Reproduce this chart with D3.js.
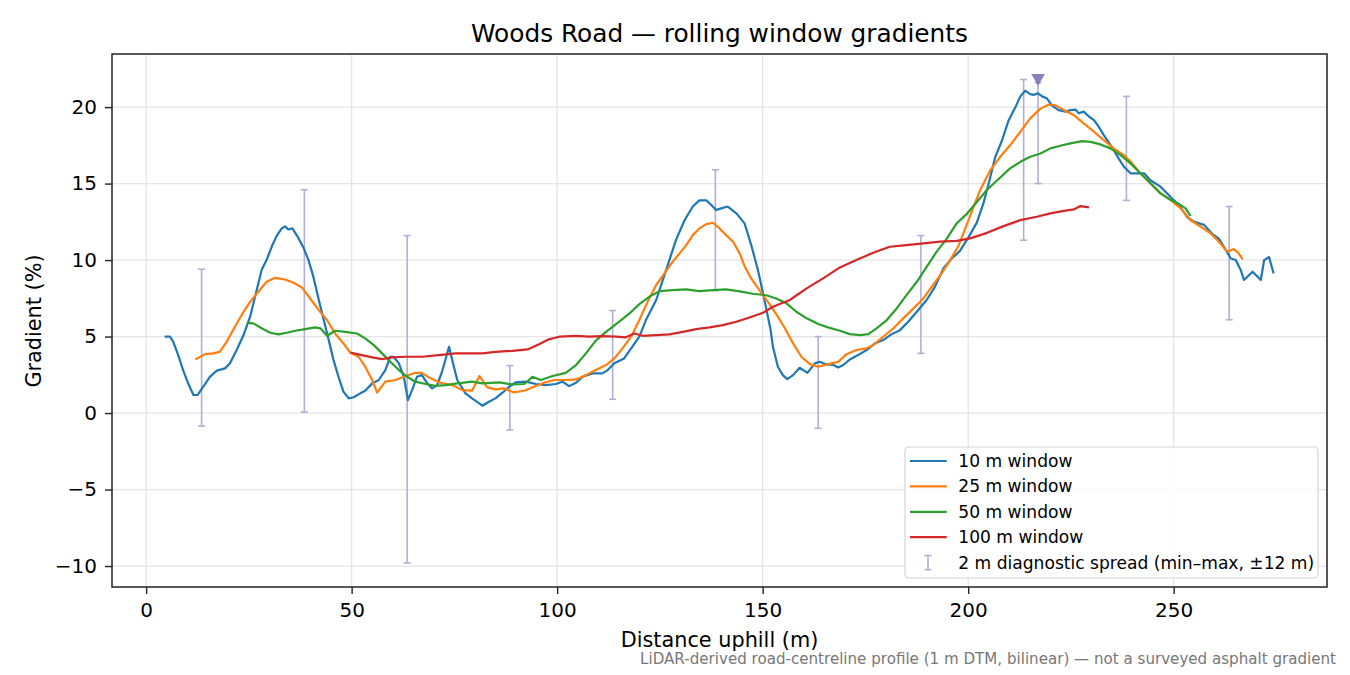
<!DOCTYPE html>
<html>
<head>
<meta charset="utf-8">
<script src="https://cdn.jsdelivr.net/npm/d3@7"></script>
<style>
  body { margin: 0; background: #fff; }
  svg text { font-family: "DejaVu Sans", sans-serif; }
</style>
</head>
<body>
<div id="chart"></div>
<script>
// [distance uphill (m), gradient (%)]
const win10 = [[4.5,5.0],[5.8,5.0],[6.6,4.66],[7.8,3.8],[9.0,2.8],[10.2,1.96],[11.5,1.18],[12.5,1.18],[13.9,1.72],[15.5,2.37],[17.2,2.77],[19.2,2.92],[20.4,3.25],[22.0,4.1],[23.7,5.1],[25.3,6.3],[26.5,7.6],[28.1,9.35],[29.3,10.0],[30.6,10.9],[31.8,11.6],[33.0,12.07],[33.8,12.2],[34.6,12.0],[35.6,12.07],[36.7,11.6],[38.3,10.8],[39.5,10.0],[40.7,8.9],[42.0,7.4],[43.2,6.1],[44.4,4.8],[45.6,3.46],[46.8,2.37],[48.0,1.4],[49.3,0.96],[50.5,1.03],[52.1,1.29],[53.3,1.46],[55.0,1.94],[56.6,2.16],[58.2,2.81],[59.4,3.68],[60.2,3.68],[61.5,3.25],[62.7,2.37],[63.7,0.85],[64.7,1.5],[65.9,2.37],[67.1,2.48],[68.4,1.94],[69.6,1.61],[70.8,1.83],[72.0,2.7],[73.7,4.33],[74.9,3.0],[75.7,2.16],[77.7,1.29],[79.3,0.96],[81.8,0.48],[83.4,0.74],[85.0,0.96],[86.7,1.33],[88.3,1.72],[89.9,2.0],[92.4,2.05],[94.8,1.9],[97.2,1.83],[99.7,1.9],[101.3,2.05],[102.9,1.76],[104.6,1.98],[106.2,2.37],[108.6,2.59],[111.0,2.59],[112.3,2.81],[113.9,3.25],[116.3,3.57],[118.0,4.23],[120.0,4.99],[121.6,6.08],[124.1,7.39],[125.7,8.69],[127.3,10.0],[128.9,11.3],[131.0,12.6],[133.0,13.5],[134.6,13.9],[136.3,13.9],[137.5,13.6],[138.7,13.27],[139.9,13.38],[141.5,13.5],[143.6,13.05],[145.6,12.4],[147.2,11.0],[148.9,9.3],[150.5,7.3],[151.9,5.5],[152.5,4.33],[153.7,3.03],[154.9,2.48],[156.0,2.22],[157.4,2.48],[159.0,2.96],[160.9,2.63],[162.7,3.25],[163.9,3.35],[165.5,3.18],[167.2,3.14],[168.4,2.98],[169.6,3.14],[171.2,3.5],[173.2,3.79],[175.3,4.12],[177.3,4.55],[179.3,4.77],[181.4,5.16],[183.4,5.42],[185.4,5.97],[187.5,6.62],[189.9,7.39],[191.9,8.25],[194.0,9.46],[196.0,10.1],[198.0,10.6],[200.1,11.5],[202.1,12.45],[203.7,13.7],[205.0,15.0],[206.6,16.75],[208.2,17.8],[209.8,19.1],[211.5,20.0],[212.7,20.7],[213.9,21.07],[215.1,20.85],[215.9,20.8],[217.0,20.9],[218.0,20.7],[219.2,20.56],[220.4,20.1],[222.0,19.8],[223.7,19.7],[224.9,19.8],[226.1,19.84],[226.9,19.6],[228.1,19.7],[229.3,19.4],[230.6,19.15],[231.8,18.7],[233.0,18.17],[234.2,17.7],[235.4,17.2],[236.7,16.6],[237.9,16.1],[239.5,15.67],[241.1,15.67],[242.8,15.67],[244.4,15.2],[246.8,14.8],[249.3,14.1],[251.3,13.6],[253.3,12.8],[255.0,12.5],[257.4,12.3],[259.4,11.7],[261.0,11.4],[262.7,10.65],[263.9,10.1],[265.1,10.0],[266.3,9.35],[267.1,8.7],[269.2,9.24],[271.2,8.7],[272.0,10.0],[273.2,10.2],[274.3,9.13]];

const win25 = [[12.0,3.5],[14.3,3.85],[16.3,3.9],[17.9,4.0],[19.6,4.66],[21.6,5.64],[23.7,6.62],[25.3,7.27],[27.3,7.93],[29.3,8.58],[31.4,8.84],[33.8,8.73],[35.9,8.52],[37.9,8.21],[39.9,7.49],[42.0,6.73],[44.0,6.08],[46.0,5.2],[48.0,4.55],[49.7,3.94],[51.7,3.68],[53.3,3.03],[55.0,2.16],[56.2,1.33],[58.2,2.05],[60.7,2.16],[62.7,2.37],[65.5,2.63],[67.1,2.63],[69.2,2.27],[71.6,1.98],[74.5,1.83],[76.9,1.5],[79.3,1.46],[81.1,2.42],[83.0,1.68],[85.0,1.55],[87.1,1.61],[89.5,1.35],[92.0,1.46],[94.4,1.72],[96.8,1.98],[99.3,2.16],[102.1,2.16],[104.6,2.2],[107.0,2.48],[109.4,2.81],[111.9,3.14],[113.9,3.57],[115.9,4.23],[118.0,4.99],[120.0,6.08],[122.0,7.27],[124.1,8.37],[126.1,9.13],[128.1,9.89],[129.8,10.44],[131.4,10.98],[133.0,11.63],[134.6,12.07],[136.3,12.35],[137.9,12.44],[139.5,12.07],[141.1,11.63],[142.8,11.2],[144.4,10.44],[145.6,9.6],[147.2,8.8],[149.3,8.0],[151.7,7.1],[153.7,6.3],[155.4,5.54],[157.4,4.55],[159.4,3.68],[161.5,3.2],[163.5,3.03],[165.9,3.2],[168.4,3.35],[170.4,3.85],[172.8,4.12],[175.3,4.23],[176.9,4.44],[179.3,4.99],[181.8,5.54],[184.2,6.19],[186.7,6.84],[189.1,7.49],[191.1,8.25],[193.2,9.0],[195.4,9.9],[197.6,10.9],[200.5,12.9],[202.9,14.57],[205.4,15.88],[207.8,16.75],[210.2,17.5],[212.7,18.39],[215.1,19.26],[217.6,19.9],[219.6,20.17],[221.2,20.13],[223.3,19.8],[225.7,19.48],[228.1,18.93],[230.6,18.39],[233.0,17.84],[235.4,17.3],[237.9,16.86],[239.9,16.32],[241.9,15.67],[244.4,15.0],[246.8,14.36],[249.3,13.92],[251.7,13.38],[254.1,12.6],[256.6,12.18],[259.0,11.74],[261.0,11.2],[263.1,10.55],[264.6,10.72],[265.7,10.48],[266.8,10.05]];

const win50 = [[24.5,5.9],[26.1,5.86],[28.1,5.54],[30.2,5.25],[32.2,5.14],[34.2,5.25],[36.3,5.38],[38.7,5.49],[41.1,5.6],[42.4,5.54],[44.0,5.05],[46.0,5.38],[48.4,5.31],[51.3,5.2],[53.3,4.88],[55.4,4.44],[57.4,3.9],[59.4,3.35],[61.5,2.81],[63.5,2.37],[65.5,2.05],[68.0,1.9],[70.4,1.78],[72.9,1.83],[75.3,1.92],[79.3,2.05],[81.8,1.94],[85.9,2.0],[89.1,1.87],[92.0,1.9],[94.0,2.37],[96.0,2.16],[98.9,2.42],[102.1,2.63],[104.6,3.14],[107.0,3.9],[109.4,4.73],[111.9,5.31],[115.1,5.97],[117.6,6.51],[120.0,7.12],[122.4,7.6],[124.9,7.97],[128.1,8.04],[131.4,8.08],[134.6,7.97],[137.9,8.04],[141.1,8.08],[144.4,7.95],[147.6,7.8],[150.9,7.7],[153.3,7.49],[155.8,7.17],[158.2,6.62],[160.7,6.19],[163.5,5.82],[165.9,5.6],[168.8,5.38],[171.2,5.16],[173.7,5.1],[175.7,5.16],[177.7,5.54],[180.2,6.08],[182.6,6.84],[185.0,7.71],[187.5,8.58],[189.9,9.56],[192.3,10.54],[194.8,11.4],[197.2,12.4],[199.6,13.0],[202.1,13.8],[204.6,14.6],[207.8,15.4],[210.2,15.99],[212.7,16.42],[215.1,16.75],[217.6,16.97],[220.0,17.3],[222.4,17.47],[224.9,17.63],[227.7,17.78],[229.8,17.73],[232.2,17.56],[234.6,17.3],[237.1,16.86],[239.5,16.32],[241.9,15.67],[244.4,15.0],[246.8,14.36],[249.3,13.92],[251.3,13.66],[252.9,13.38],[254.1,12.88]];

const win100 = [[49.7,3.96],[52.5,3.79],[55.0,3.64],[57.4,3.53],[59.8,3.64],[63.1,3.68],[67.1,3.68],[71.2,3.79],[75.3,3.9],[79.3,3.9],[81.8,3.9],[85.0,4.0],[89.1,4.07],[92.8,4.16],[95.6,4.5],[98.0,4.82],[100.5,4.99],[104.6,5.05],[107.8,4.99],[111.0,5.03],[114.3,4.99],[116.7,4.95],[118.8,5.2],[120.8,5.05],[124.1,5.1],[127.3,5.14],[130.6,5.31],[133.8,5.49],[137.1,5.6],[140.3,5.75],[143.6,5.97],[146.8,6.25],[150.1,6.56],[152.5,6.95],[156.6,7.39],[160.7,8.15],[164.7,8.8],[168.8,9.52],[172.8,10.0],[176.9,10.48],[180.9,10.87],[185.0,10.98],[189.1,11.09],[193.2,11.2],[197.2,11.26],[200.5,11.42],[204.6,11.78],[208.6,12.22],[212.7,12.61],[216.7,12.83],[220.0,13.05],[223.3,13.22],[225.7,13.31],[227.3,13.53],[229.4,13.44]];

// 2 m diagnostic spread (min / max within ±12 m)
const spreadX   = [13.5, 38.5, 63.5, 88.5, 113.5, 138.5, 163.5, 188.5, 213.5, 217, 238.5, 263.5];
const spreadMin = [-0.85, 0.07, -9.8, -1.1, 0.9, 8.0, -1.0, 3.9, 11.3, 15.0, 13.9, 6.1];
const spreadMax = [9.4, 14.6, 11.6, 3.1, 6.7, 15.9, 5.0, 11.6, 21.8, 21.6, 20.7, 13.5];

// steepest point marker
const peakMarker = [217, 21.9];

const xTicks = [0, 50, 100, 150, 200, 250];
const yTicks = [-10, -5, 0, 5, 10, 15, 20];

const seriesNames = ['10 m window', '25 m window', '50 m window', '100 m window'];
const seriesColors = ['#1f77b4', '#ff7f0e', '#2ca02c', '#d62728'];
const spreadLabel = '2 m diagnostic spread (min\u2013max, \u00b112 m)';

const margin = { top: 54, right: 23, bottom: 88, left: 112 };
const width = 1350 - margin.left - margin.right;
const height = 675 - margin.top - margin.bottom;

const svg = d3.select('#chart').append('svg')
    .attr('width', 1350)
    .attr('height', 675);

const g = svg.append('g')
    .attr('transform', `translate(${margin.left},${margin.top})`);

const x = d3.scaleLinear().domain([-8.3, 287.3]).range([0, width]);
const y = d3.scaleLinear().domain([-11.37, 23.47]).range([height, 0]);

// grid
g.append('g').selectAll('line.gx')
    .data(xTicks).enter().append('line')
    .attr('x1', d => x(d)).attr('x2', d => x(d))
    .attr('y1', 0).attr('y2', height)
    .attr('stroke', '#e4e4e4').attr('stroke-width', 1.3);
g.append('g').selectAll('line.gy')
    .data(yTicks).enter().append('line')
    .attr('x1', 0).attr('x2', width)
    .attr('y1', d => y(d)).attr('y2', d => y(d))
    .attr('stroke', '#e4e4e4').attr('stroke-width', 1.3);

// error bars
const spread = spreadX.map((d, i) => ({ x: d, lo: spreadMin[i], hi: spreadMax[i] }));
const errColor = '#b3aed4';
const eb = g.append('g').selectAll('g').data(spread).enter().append('g');
eb.append('line')
    .attr('x1', d => x(d.x)).attr('x2', d => x(d.x))
    .attr('y1', d => y(d.lo)).attr('y2', d => y(d.hi))
    .attr('stroke', errColor).attr('stroke-width', 1.6);
['lo', 'hi'].forEach(k => {
    eb.append('line')
        .attr('x1', d => x(d.x) - 3.5).attr('x2', d => x(d.x) + 3.5)
        .attr('y1', d => y(d[k])).attr('y2', d => y(d[k]))
        .attr('stroke', errColor).attr('stroke-width', 1.6);
});

// rolling window lines
const line = d3.line().x(d => x(d[0])).y(d => y(d[1])).curve(d3.curveLinear);
[win10, win25, win50, win100].forEach((s, i) => {
    g.append('path')
        .datum(s)
        .attr('d', line)
        .attr('fill', 'none')
        .attr('stroke', seriesColors[i])
        .attr('stroke-width', 2.2)
        .attr('stroke-linejoin', 'round')
        .attr('stroke-linecap', 'butt');
});

// peak marker (downward triangle)
g.append('path')
    .attr('d', d3.symbol().type(d3.symbolTriangle).size(80))
    .attr('transform', `translate(${x(peakMarker[0])},${y(peakMarker[1])}) rotate(180)`)
    .attr('fill', '#756bb1')
    .attr('fill-opacity', 0.85);

// axes
const fmt = d => d < 0 ? '\u2212' + Math.abs(d) : String(d);
const xAxis = g.append('g')
    .attr('transform', `translate(0,${height})`)
    .call(d3.axisBottom(x).tickValues(xTicks).tickFormat(fmt).tickSize(7).tickPadding(9));
const yAxis = g.append('g')
    .call(d3.axisLeft(y).tickValues(yTicks).tickFormat(fmt).tickSize(7).tickPadding(8));
[xAxis, yAxis].forEach(a => {
    a.select('.domain').remove();
    a.selectAll('line').attr('stroke', '#222').attr('stroke-width', 1.4);
    a.selectAll('text').attr('fill', '#000').style('font-size', '20px').style('font-family', '"DejaVu Sans", sans-serif');
});

// frame
g.append('rect')
    .attr('width', width).attr('height', height)
    .attr('fill', 'none').attr('stroke', '#222').attr('stroke-width', 1.5);

// legend
const legend = g.append('g')
    .attr('transform', `translate(${905 - margin.left},${447 - margin.top})`);
legend.append('rect')
    .attr('width', 413).attr('height', 131).attr('rx', 4)
    .attr('fill', '#fff').attr('fill-opacity', 0.85)
    .attr('stroke', '#d4d4d4').attr('stroke-width', 1.2);
const rowY = i => 14 + i * 25.4;
seriesNames.forEach((name, i) => {
    legend.append('line')
        .attr('x1', 5).attr('x2', 41.7)
        .attr('y1', rowY(i)).attr('y2', rowY(i))
        .attr('stroke', seriesColors[i]).attr('stroke-width', 2.2);
    legend.append('text')
        .attr('x', 53.3).attr('y', rowY(i)).attr('dy', '0.35em')
        .style('font-size', '17.1px').text(name);
});
const ey = rowY(4);
legend.append('line').attr('x1', 23).attr('x2', 23).attr('y1', ey - 7).attr('y2', ey + 7)
    .attr('stroke', errColor).attr('stroke-width', 1.6);
[-7, 7].forEach(o => {
    legend.append('line').attr('x1', 19.5).attr('x2', 26.5).attr('y1', ey + o).attr('y2', ey + o)
        .attr('stroke', errColor).attr('stroke-width', 1.6);
});
legend.append('text')
    .attr('x', 53.3).attr('y', ey).attr('dy', '0.35em')
    .style('font-size', '17.1px').text(spreadLabel);

// titles and labels
svg.append('text')
    .attr('x', margin.left + width / 2).attr('y', 42)
    .attr('text-anchor', 'middle').style('font-size', '24.8px')
    .text('Woods Road \u2014 rolling window gradients');
svg.append('text')
    .attr('x', margin.left + width / 2).attr('y', 647)
    .attr('text-anchor', 'middle').style('font-size', '20.8px')
    .text('Distance uphill (m)');
svg.append('text')
    .attr('transform', 'translate(41,321) rotate(-90)')
    .attr('text-anchor', 'middle').style('font-size', '20.8px')
    .text('Gradient (%)');
svg.append('text')
    .attr('x', 1336).attr('y', 664)
    .attr('text-anchor', 'end').style('font-size', '15.1px').attr('fill', '#777')
    .text('LiDAR-derived road-centreline profile (1 m DTM, bilinear) \u2014 not a surveyed asphalt gradient');
</script>
</body>
</html>
